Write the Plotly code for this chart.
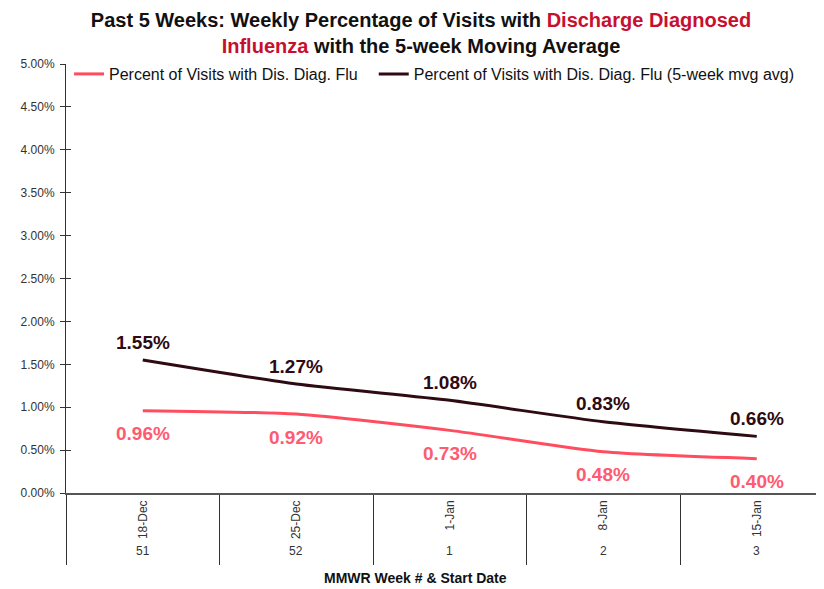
import plotly.graph_objects as go

dates = ["18-Dec", "25-Dec", "1-Jan", "8-Jan", "15-Jan"]
weeks = ["51", "52", "1", "2", "3"]
pct_flu = [0.96, 0.92, 0.73, 0.48, 0.40]
pct_flu_avg = [1.55, 1.27, 1.08, 0.83, 0.66]
y_ticks = [0.0, 0.5, 1.0, 1.5, 2.0, 2.5, 3.0, 3.5, 4.0, 4.5, 5.0]

RED = "#FF4D5F"
RED_TXT = "#FF5A70"
DARK = "#2E0A12"
FONT = "Liberation Sans, Arial, sans-serif"
NARROW = "Liberation Sans Narrow, Arial Narrow, Liberation Sans, Arial, sans-serif"

# page body has an 8px margin: figure is sized to fill the rest of the window
W, H = 816, 581
ML, MT, MB = 58, 56, 96
PH = H - MT - MB  # plot height in px

xidx = list(range(len(dates)))
xrange_ = [-0.5, 4.438]
yrange_ = [0, 5]

fig = go.Figure()
fig.add_trace(go.Scatter(
    x=xidx, y=pct_flu, mode="lines", name="Percent of Visits with Dis. Diag. Flu",
    line=dict(color=RED, width=3, shape="spline", smoothing=0.6), legend="legend",
))
fig.add_trace(go.Scatter(
    x=xidx, y=pct_flu_avg, mode="lines",
    name="Percent of Visits with Dis. Diag. Flu (5-week mvg avg)",
    line=dict(color=DARK, width=3, shape="spline", smoothing=0.6), legend="legend2",
))
# helper trace for separator / inner tick axes
fig.add_trace(go.Scatter(x=[None], y=[None], xaxis="x2", yaxis="y2",
                         showlegend=False, hoverinfo="skip"))

annotations = []
for x, v in zip(xidx, pct_flu_avg):
    annotations.append(dict(x=x, y=v, xref="x", yref="y", text=f"{v:.2f}%",
                            showarrow=False, yshift=18,
                            font=dict(family=FONT, size=19, color=DARK, weight="bold")))
for x, v in zip(xidx, pct_flu):
    annotations.append(dict(x=x, y=v, xref="x", yref="y", text=f"{v:.2f}%",
                            showarrow=False, yshift=-23,
                            font=dict(family=FONT, size=19, color=RED_TXT, weight="bold")))
for x, w in zip(xidx, weeks):
    annotations.append(dict(x=x, y=-58 / PH, xref="x", yref="paper", text=w,
                            showarrow=False, yanchor="middle",
                            font=dict(family=FONT, size=12, color="#333333")))
annotations.append(dict(x=(415 - 66) / 758, y=-85 / PH, xref="paper", yref="paper",
                        text="<b>MMWR Week # &amp; Start Date</b>", showarrow=False,
                        yanchor="middle",
                        font=dict(family=NARROW, size=14, color="#111111")))

legend_common = dict(orientation="h", xanchor="left", y=1 - 10 / PH, yanchor="middle",
                     font=dict(family=NARROW, size=16, color="#111111"),
                     bgcolor="rgba(0,0,0,0)", itemwidth=30)

fig.update_layout(
    width=W, height=H,
    paper_bgcolor="white", plot_bgcolor="white",
    margin=dict(l=ML, r=0, t=MT, b=MB, autoexpand=False),
    title=dict(
        text=("<b>Past 5 Weeks: Weekly Percentage of Visits with "
              "<span style='color:#C8102E'>Discharge Diagnosed</span><br>"
              "<span style='color:#C8102E'>Influenza</span> with the 5-week Moving Average</b>"),
        x=413 / W, xanchor="center", y=1 - 19.4 / H, yanchor="top",
        font=dict(family=NARROW, size=20, color="#111111"),
    ),
    showlegend=True,
    legend=dict(x=0.004, **legend_common),
    legend2=dict(x=0.406, **legend_common),
    xaxis=dict(
        range=xrange_, tickmode="array", tickvals=xidx, ticktext=dates,
        tickangle=-90, ticks="", showgrid=False, zeroline=False,
        showline=False, tickfont=dict(family=FONT, size=12, color="#333333"),
        ticklabelstandoff=4,
    ),
    xaxis2=dict(
        overlaying="x", anchor="y2", range=xrange_, tickmode="array",
        tickvals=[-0.5, 0.5, 1.5, 2.5, 3.5, 4.5], ticks="outside", ticklen=70,
        tickwidth=1, tickcolor="#333333", showticklabels=False, showgrid=False,
        zeroline=False, showline=True, linecolor="#555555", linewidth=2,
    ),
    yaxis=dict(
        range=yrange_, tickmode="array", tickvals=y_ticks,
        ticktext=[f"{v:.2f}%" for v in y_ticks],
        ticks="outside", ticklen=5, tickcolor="#333333", showgrid=False,
        zeroline=False, showline=True, linecolor="#333333", linewidth=1,
        tickfont=dict(family=FONT, size=12, color="#333333"),
        ticklabelstandoff=3,
    ),
    yaxis2=dict(
        overlaying="y", anchor="x2", range=yrange_, tickmode="array", tickvals=y_ticks,
        ticks="inside", ticklen=5, tickcolor="#333333", showticklabels=False,
        showgrid=False, zeroline=False, showline=False,
    ),
    annotations=annotations,
)

fig.write_html("out.html")
